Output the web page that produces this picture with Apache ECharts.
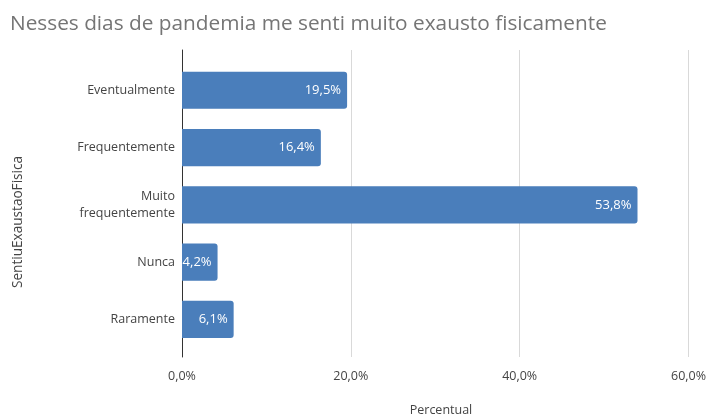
<!DOCTYPE html>
<html>
<head>
<meta charset="utf-8">
<script src="https://cdn.jsdelivr.net/npm/echarts@6/dist/echarts.min.js"></script>
<style>
  html, body { margin: 0; padding: 0; background: #fff; }
  #chart { width: 709px; height: 414px; }
</style>
</head>
<body>
<div id="chart"></div>
<script>
// Survey answers and their share of respondents (%)
const categories = ['Eventualmente', 'Frequentemente', 'Muito\nfrequentemente', 'Nunca', 'Raramente'];
const percentages = [19.5, 16.4, 53.8, 4.2, 6.1];
const xTicks = [0, 20, 40, 60];

const FONT = '"Open Sans", "Noto Sans", sans-serif';
const fmt = v => v.toFixed(1).replace('.', ',') + '%';

const chart = echarts.init(document.getElementById('chart'), null, { renderer: 'canvas' });

const left = 182, width = 508;

chart.setOption({
  backgroundColor: '#ffffff',
  animation: false,
  title: [
    {
      text: 'Nesses dias de pandemia me senti muito exausto fisicamente',
      left: 5, top: 9,
      textStyle: { fontFamily: FONT, fontSize: 20.8, fontWeight: 'normal', color: '#757575' }
    },
    {
      text: 'Percentual',
      left: 436, top: 399, textAlign: 'center',
      textStyle: { fontFamily: FONT, fontSize: 12.5, fontWeight: 'normal', color: '#444' }
    }
  ],
  graphic: [{
    type: 'text',
    x: 18, y: 222,
    rotation: Math.PI / 2,
    style: {
      text: 'SentiuExaustaoFisica',
      fontFamily: FONT, fontSize: 13.6, fill: '#444',
      align: 'center', verticalAlign: 'middle'
    }
  }],
  grid: [
    // frame: gridlines, tick labels and the vertical axis line
    { left: left, width: width, top: 50, height: 307 },
    // bars
    { left: left, width: width, top: 61.6, height: 286.5 }
  ],
  xAxis: [
    {
      gridIndex: 0, type: 'value', min: xTicks[0], max: xTicks[xTicks.length - 1], interval: 20,
      axisLine: { show: false }, axisTick: { show: false },
      splitLine: { show: true, lineStyle: { color: '#d9d9d9', width: 1 } },
      axisLabel: {
        formatter: fmt, margin: 13,
        fontFamily: FONT, fontSize: 12.5, color: '#444'
      }
    },
    {
      gridIndex: 1, type: 'value', min: xTicks[0], max: xTicks[xTicks.length - 1], interval: 20,
      show: false
    }
  ],
  yAxis: [
    {
      gridIndex: 0, type: 'value', min: 0, max: 1,
      axisLine: { show: true, lineStyle: { color: '#333', width: 1 } },
      axisTick: { show: false }, axisLabel: { show: false }, splitLine: { show: false }
    },
    {
      gridIndex: 1, type: 'category', data: categories, inverse: true,
      axisLine: { show: false }, axisTick: { show: false },
      axisLabel: {
        margin: 7, align: 'right', lineHeight: 17,
        fontFamily: FONT, fontSize: 12.5, color: '#444'
      }
    }
  ],
  series: [{
    type: 'bar',
    xAxisIndex: 1, yAxisIndex: 1,
    data: percentages,
    barCategoryGap: '35%',
    itemStyle: { color: '#4a7ebb', borderRadius: [0, 3, 3, 0] },
    label: {
      show: true, position: 'insideRight', distance: 6,
      formatter: p => fmt(p.value),
      fontFamily: FONT, fontSize: 13, color: '#ffffff'
    }
  }]
});
</script>
</body>
</html>
